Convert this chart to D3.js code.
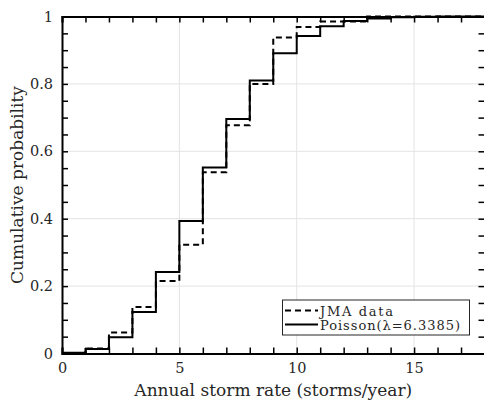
<!DOCTYPE html>
<html><head><meta charset="utf-8">
<script src="https://cdn.jsdelivr.net/npm/d3@7"></script>
<style>html,body{margin:0;padding:0;background:#fff;}svg{display:block;}</style>
</head><body>
<svg id="c" width="484" height="401"></svg>
<script>
// Data
const rates = [0,1,2,3,4,5,6,7,8,9,10,11,12,13,14,15,16,17,18];
const jmaCdf = [0,0.015,0.062,0.138,0.215,0.323,0.538,0.677,0.800,0.938,0.969,0.985,0.985,1,1,1,1,1,1];
const poissonCdf = [0.002,0.013,0.048,0.123,0.242,0.393,0.552,0.696,0.810,0.891,0.942,0.971,0.987,0.994,0.998,0.999,1,1,1];
const xTicks = [0,5,10,15];
const yTicks = [0,0.2,0.4,0.6,0.8,1];
const legendLabels = ["JMA data","Poisson(\u03bb=6.3385)"];

const font = "'DejaVu Serif', serif";
const txt = "#262626";
const svg = d3.select("#c");
const L = 62, R = 484.5, T = 16.5, B = 353.5;
const x = d3.scaleLinear().domain([0,18]).range([L,R]);
const y = d3.scaleLinear().domain([0,1]).range([B,T]);

// grid
const g = svg.append("g");
g.selectAll("line.gx").data(xTicks.filter(d=>d>0)).enter().append("line")
  .attr("x1",d=>x(d)).attr("x2",d=>x(d)).attr("y1",T).attr("y2",B)
  .attr("stroke","#e3e3e3").attr("stroke-width",1);
g.selectAll("line.gy").data(yTicks.filter(d=>d>0&&d<1)).enter().append("line")
  .attr("y1",d=>y(d)).attr("y2",d=>y(d)).attr("x1",L).attr("x2",R)
  .attr("stroke","#e3e3e3").attr("stroke-width",1);

// step lines (stairs)
const line = d3.line().x(d=>x(d[0])).y(d=>y(d[1])).curve(d3.curveStepAfter);
function pts(vals){ return rates.map((r,i)=>[r,vals[i]]); }
svg.append("path").attr("d",line(pts(poissonCdf))).attr("fill","none")
  .attr("stroke","#000").attr("stroke-width",2);
svg.append("path").attr("d",line(pts(jmaCdf))).attr("fill","none")
  .attr("stroke","#000").attr("stroke-width",2).attr("stroke-dasharray","6,4");

// axes with inward ticks
const minorX = d3.range(0,19,1);
const minorY = d3.range(0,1.0001,0.05);
const ax = svg.append("g").attr("transform",`translate(0,${B})`)
  .call(d3.axisBottom(x).tickValues(minorX).tickSize(-6).tickFormat(""));
const axTop = svg.append("g").attr("transform",`translate(0,${T})`)
  .call(d3.axisTop(x).tickValues(minorX).tickSize(-6).tickFormat(""));
const ay = svg.append("g").attr("transform",`translate(${L},0)`)
  .call(d3.axisLeft(y).tickValues(minorY).tickSize(-6).tickFormat(""));
const ayR = svg.append("g").attr("transform",`translate(${R},0)`)
  .call(d3.axisRight(y).tickValues(minorY).tickSize(-6).tickFormat(""));
[ax,axTop,ay,ayR].forEach(a=>{
  a.selectAll("path").attr("stroke","#000").attr("stroke-width",2);
  a.selectAll("line").attr("stroke","#000").attr("stroke-width",1.5);
});

// tick labels
const xl = svg.append("g").attr("transform",`translate(0,${B})`)
  .call(d3.axisBottom(x).tickValues(xTicks).tickSize(0).tickPadding(9).tickFormat(d3.format("d")));
xl.select("path").remove();
xl.selectAll("text").attr("font-family",font).attr("font-size",14.5).attr("fill",txt);
const yl = svg.append("g").attr("transform",`translate(${L},0)`)
  .call(d3.axisLeft(y).tickValues(yTicks).tickSize(0).tickPadding(9).tickFormat(d=>d===0||d===1?d3.format("d")(d):d3.format(".1f")(d)));
yl.select("path").remove();
yl.selectAll("text").attr("font-family",font).attr("font-size",14.5).attr("fill",txt);

// axis titles
svg.append("text").attr("x",(L+R)/2).attr("y",396).attr("text-anchor","middle")
  .attr("font-family",font).attr("font-size",17).attr("fill",txt)
  .text("Annual storm rate (storms/year)");
svg.append("text").attr("transform",`translate(23,${(T+B)/2}) rotate(-90)`).attr("text-anchor","middle")
  .attr("font-family",font).attr("font-size",17).attr("fill",txt)
  .text("Cumulative probability");

// legend
const lg = svg.append("g");
lg.append("rect").attr("x",282.5).attr("y",300).attr("width",187).attr("height",35)
  .attr("fill","#fff").attr("stroke","#262626").attr("stroke-width",1);
const rows = [{y:310.5,base:315.5,dash:"6,4",len:73},{y:324.5,base:329.5,dash:null,len:140}];
rows.forEach((r,i)=>{
  const ln = lg.append("line").attr("x1",285).attr("x2",318).attr("y1",r.y).attr("y2",r.y)
    .attr("stroke","#000").attr("stroke-width",2);
  if(r.dash) ln.attr("stroke-dasharray",r.dash);
  lg.append("text").attr("x",320).attr("y",r.base)
    .attr("font-family",font).attr("font-size",13).attr("fill",txt)
    .attr("textLength",r.len).attr("lengthAdjust","spacing").text(legendLabels[i]);
});
</script>
</body></html>
